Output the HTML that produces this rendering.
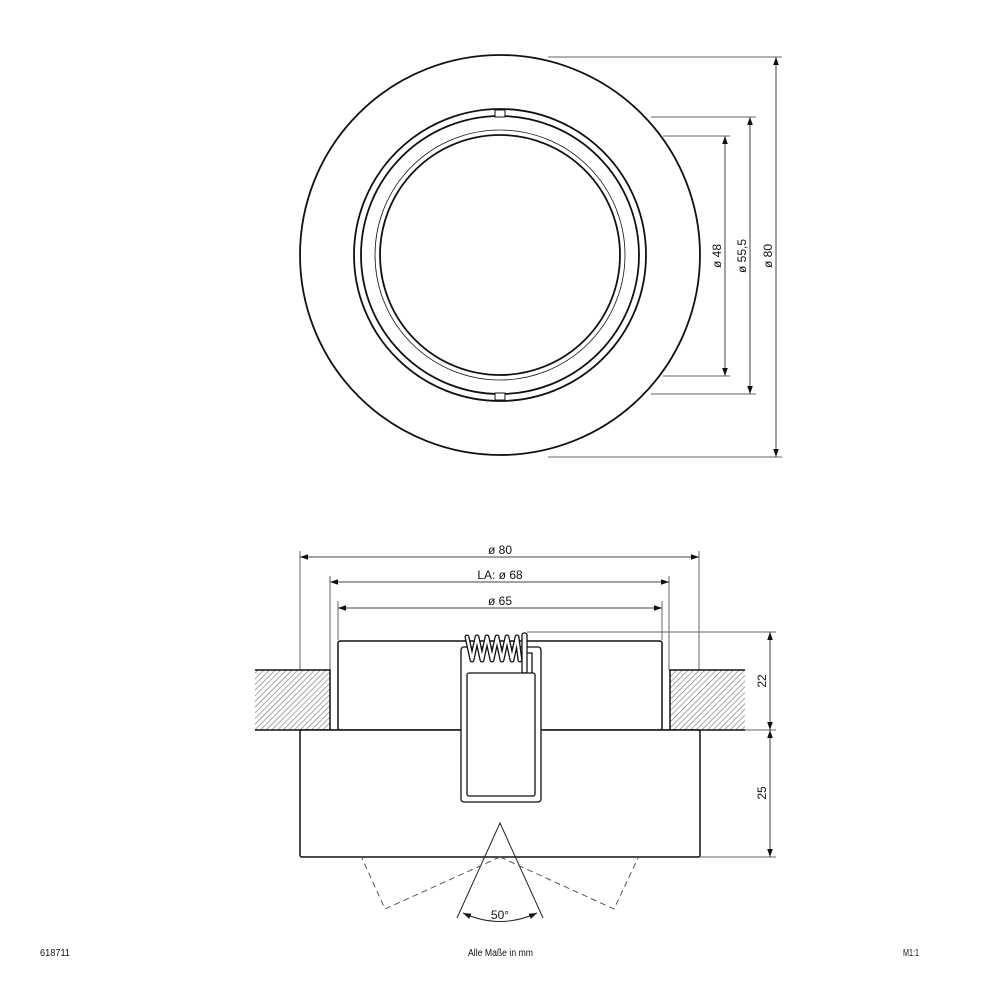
<!DOCTYPE html>
<html><head><meta charset="utf-8"><style>html,body{margin:0;padding:0;background:#fff}svg{display:block}text{font-family:"Liberation Sans",sans-serif;fill:#111}</style></head>
<body>
<svg width="1000" height="1000" viewBox="0 0 1000 1000" xmlns="http://www.w3.org/2000/svg">
<defs>
<pattern id="h" width="4" height="4" patternUnits="userSpaceOnUse" patternTransform="rotate(45)">
<rect width="4" height="4" fill="#fff"/><line x1="0" y1="0" x2="0" y2="4" stroke="#777" stroke-width="1.3"/>
</pattern>
<marker id="a" viewBox="0 0 10 10" refX="10" refY="5" markerWidth="8" markerHeight="8" orient="auto-start-reverse" markerUnits="userSpaceOnUse"><path d="M0,1.5 L10,5 L0,8.5 Z" fill="#111"/></marker>
</defs>
<!-- top view -->
<g fill="none" stroke="#111">
<circle cx="500" cy="255" r="200" stroke-width="1.8"/>
<circle cx="500" cy="255" r="146" stroke-width="1.8"/>
<circle cx="500" cy="255" r="139" stroke-width="1.8"/>
<circle cx="500" cy="255" r="125" stroke-width="0.8"/>
<circle cx="500" cy="255" r="120" stroke-width="1.8"/>
<rect x="495" y="110" width="10" height="7" stroke-width="1" fill="#fff"/>
<rect x="495" y="393" width="10" height="7" stroke-width="1" fill="#fff"/>
</g>
<g stroke="#666" stroke-width="1" fill="none">
<line x1="548" y1="57" x2="782" y2="57"/><line x1="548" y1="457" x2="782" y2="457"/>
<line x1="651" y1="117" x2="756" y2="117"/><line x1="651" y1="394" x2="756" y2="394"/>
<line x1="663" y1="136" x2="730" y2="136"/><line x1="663" y1="376" x2="730" y2="376"/>
</g>
<g stroke="#444" stroke-width="1">
<line x1="776" y1="57" x2="776" y2="457" marker-start="url(#a)" marker-end="url(#a)"/>
<line x1="750" y1="117" x2="750" y2="394" marker-start="url(#a)" marker-end="url(#a)"/>
<line x1="725" y1="136" x2="725" y2="376" marker-start="url(#a)" marker-end="url(#a)"/>
</g>
<text font-size="12" text-anchor="middle" transform="translate(772,256) rotate(-90)">ø 80</text>
<text font-size="12" text-anchor="middle" transform="translate(746,256) rotate(-90)">ø 55,5</text>
<text font-size="12" text-anchor="middle" transform="translate(721,256) rotate(-90)">ø 48</text>
<!-- side view dims -->
<g stroke="#666" stroke-width="1">
<line x1="300" y1="551" x2="300" y2="670"/><line x1="699" y1="551" x2="699" y2="670"/>
<line x1="330" y1="576" x2="330" y2="670"/><line x1="669" y1="576" x2="669" y2="670"/>
<line x1="338" y1="601" x2="338" y2="640"/><line x1="662" y1="601" x2="662" y2="640"/>
<line x1="527" y1="632" x2="776" y2="632"/><line x1="745" y1="730" x2="776" y2="730"/><line x1="700" y1="857" x2="776" y2="857"/>
</g>
<g stroke="#444" stroke-width="1">
<line x1="300" y1="557" x2="699" y2="557" marker-start="url(#a)" marker-end="url(#a)"/>
<line x1="330" y1="582" x2="669" y2="582" marker-start="url(#a)" marker-end="url(#a)"/>
<line x1="338" y1="608" x2="662" y2="608" marker-start="url(#a)" marker-end="url(#a)"/>
<line x1="770" y1="632" x2="770" y2="730" marker-start="url(#a)" marker-end="url(#a)"/>
<line x1="770" y1="730" x2="770" y2="857" marker-start="url(#a)" marker-end="url(#a)"/>
</g>
<text font-size="12" text-anchor="middle" x="500" y="554">ø 80</text>
<text font-size="12" text-anchor="middle" x="500" y="579">LA: ø 68</text>
<text font-size="12" text-anchor="middle" x="500" y="605">ø 65</text>
<text font-size="12" text-anchor="middle" transform="translate(766,681) rotate(-90)">22</text>
<text font-size="12" text-anchor="middle" transform="translate(766,793) rotate(-90)">25</text>
<!-- ceiling -->
<rect x="255" y="670" width="75" height="60" fill="url(#h)"/>
<rect x="670" y="670" width="75" height="60" fill="url(#h)"/>
<g stroke="#111" stroke-width="1.5" fill="none">
<path d="M255,670 H330 V730"/><path d="M745,670 H670 V730"/>
<line x1="255" y1="730" x2="745" y2="730"/>
<rect x="338" y="641" width="324" height="89" rx="2" fill="#fff"/>
<rect x="300" y="730" width="400" height="127" rx="2" fill="#fff"/>
</g>
<!-- clip -->
<g stroke="#111" stroke-width="1.3" fill="none">
<path d="M468,657 a6,7 0 0 0 -6,7 v7" fill="#fff"/>
<rect x="461" y="647" width="80" height="155" rx="3" fill="#fff"/>
<rect x="467" y="673" width="68" height="123" rx="2"/>
<path d="M527,653 H532 V673"/>
</g>
<!-- spring -->
<g fill="none" stroke-linecap="round" stroke-linejoin="round">
<path d="M467,637 L472,660 M477,637 L482,660 M487,637 L492,660 M497,637 L502,660 M507,637 L512,660 M517,637 L520,660 M472,660 L477,637 M482,660 L487,637 M492,660 L497,637 M502,660 L507,637 M512,660 L517,637" stroke="#111" stroke-width="5"/>
<path d="M467,637 L472,660 M477,637 L482,660 M487,637 L492,660 M497,637 L502,660 M507,637 L512,660 M517,637 L520,660 M472,660 L477,637 M482,660 L487,637 M492,660 L497,637 M502,660 L507,637 M512,660 L517,637" stroke="#fff" stroke-width="2.4"/>
<rect x="522" y="633" width="5" height="40" rx="2" stroke="#111" stroke-width="1.3" fill="#fff"/>
</g>
<!-- beam -->
<g stroke="#222" stroke-width="1" fill="none">
<path d="M457,918 L500,823 L543,918"/>
<path d="M500,857 L385,909 L362,858 M500,857 L614,909 L638,858" stroke="#555" stroke-dasharray="6,4"/>
<path d="M463,913 Q500,930 537,913" marker-start="url(#a)" marker-end="url(#a)"/>
</g>
<text font-size="12" text-anchor="middle" x="500" y="919">50°</text>
<!-- footer -->
<text font-size="10" x="40" y="956" textLength="30" lengthAdjust="spacingAndGlyphs">618711</text>
<text font-size="10" x="468" y="956" textLength="65" lengthAdjust="spacingAndGlyphs">Alle Maße in mm</text>
<text font-size="10" x="903" y="956" textLength="16" lengthAdjust="spacingAndGlyphs">M1:1</text>
</svg>
</body></html>
